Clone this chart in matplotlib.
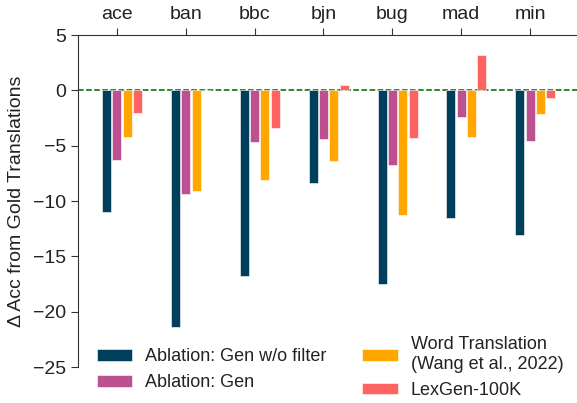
import numpy as np
import matplotlib.pyplot as plt

plt.rcParams['font.family'] = ['Liberation Sans', 'DejaVu Sans']

# Languages and per-method change in accuracy
langs = ['ace', 'ban', 'bbc', 'bjn', 'bug', 'mad', 'min']
gen_nofilter = [-11.0, -21.4, -16.8, -8.4, -17.5, -11.5, -13.1]
gen = [-6.3, -9.4, -4.7, -4.4, -6.7, -2.4, -4.6]
word_trans = [-4.2, -9.1, -8.1, -6.4, -11.3, -4.2, -2.1]
lexgen = [-2.0, 0.0, -3.4, 0.5, -4.3, 3.2, -0.7]

series = [
    ('Ablation: Gen w/o filter', gen_nofilter, '#003f5c'),
    ('Ablation: Gen', gen, '#bc5090'),
    ('Word Translation\n(Wang et al., 2022)', word_trans, '#ffa600'),
    ('LexGen-100K', lexgen, '#ff6361'),
]

fig = plt.figure(figsize=(5.77, 4.03), dpi=100)
ax = fig.add_axes([0.135, 0.089, 0.865, 0.824])

x = np.arange(len(langs))
w = 0.15
handles = []
for i, (label, vals, color) in enumerate(series):
    h = ax.bar(x + (i - 1) * w, vals, width=0.13, color=color,
               edgecolor='white', linewidth=0.4, label=label)
    handles.append(h)

ax.axhline(0, color='darkgreen', linestyle='--', linewidth=1.1, zorder=0)

ax.set_xlim(-0.565, 6.68)
ax.set_ylim(-25, 5)
ax.set_yticks([-25, -20, -15, -10, -5, 0, 5])
ax.xaxis.tick_top()
ax.set_xticks(x)
ax.set_xticklabels(langs)
ax.tick_params(axis='both', labelsize=14, direction='out', length=5,
               color='#333333', labelcolor='#222222')
ax.set_ylabel('Δ Acc from Gold Translations', fontsize=14, color='#222222',
              labelpad=6)

for s in ['right', 'bottom']:
    ax.spines[s].set_visible(False)
for s in ['left', 'top']:
    ax.spines[s].set_color('#333333')

ax.legend(handles=handles, ncol=2, loc='lower left', bbox_to_anchor=(0.005, -0.145),
          frameon=False, fontsize=13, handlelength=1.95, handleheight=0.6,
          columnspacing=2.0, handletextpad=0.72, labelspacing=0.5,
          labelcolor='#222222')

fig.savefig('out.png', dpi=100)
